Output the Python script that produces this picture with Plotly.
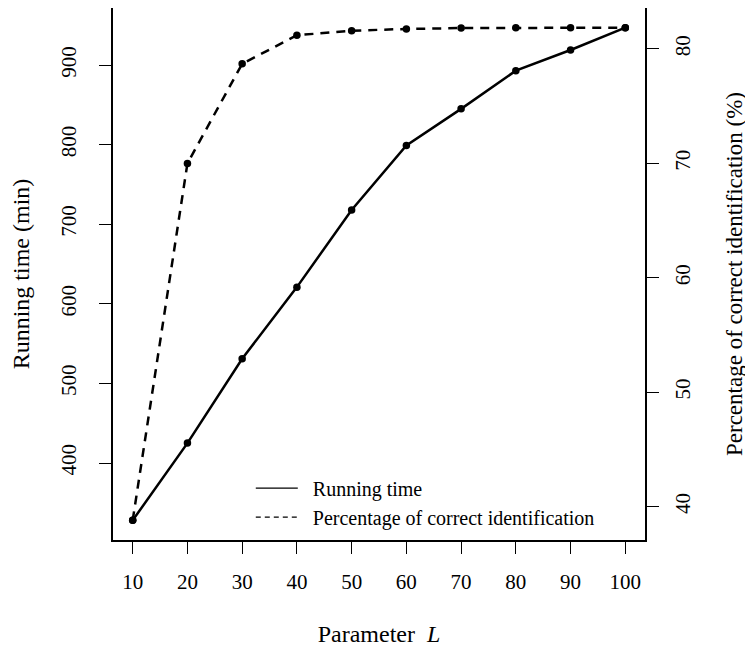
import plotly.graph_objects as go

L_values = [10, 20, 30, 40, 50, 60, 70, 80, 90, 100]
running_time = [328, 425, 531, 621, 718, 799, 845, 893, 919, 947]
pct_correct = [38.8, 70.0, 78.7, 81.2, 81.6, 81.75, 81.83, 81.86, 81.86, 81.86]

x_ticks = [10, 20, 30, 40, 50, 60, 70, 80, 90, 100]
y_ticks = [400, 500, 600, 700, 800, 900]
y2_ticks = [40, 50, 60, 70, 80]

FONT = "Liberation Serif"
FS = 21
TFS = 24


def ext(vals, f=0.04):
    lo, hi = min(vals), max(vals)
    d = (hi - lo) * f
    return [lo - d, hi + d]


fig = go.Figure()
fig.add_trace(go.Scatter(x=L_values, y=running_time, mode="lines+markers",
                         line=dict(color="black", width=2.5),
                         marker=dict(color="black", size=7.5),
                         showlegend=False, yaxis="y"))
fig.add_trace(go.Scatter(x=L_values, y=pct_correct, mode="lines+markers",
                         line=dict(color="black", width=2.5, dash="9px,7px"),
                         marker=dict(color="black", size=7.5),
                         showlegend=False, yaxis="y2"))
# legend entries (thin lines, no markers)
fig.add_trace(go.Scatter(x=[None], y=[None], mode="lines",
                         name="\u00a0\u00a0Running time",
                         line=dict(color="black", width=1.2)))
fig.add_trace(go.Scatter(x=[None], y=[None], mode="lines",
                         name="\u00a0\u00a0Percentage of correct identification",
                         line=dict(color="black", width=1.2, dash="5px,4px")))

axis_common = dict(showgrid=False, zeroline=False, showline=True, linecolor="black",
                   linewidth=1.5, ticks="outside", ticklen=12, tickwidth=1.2,
                   tickcolor="black", automargin=False,
                   tickfont=dict(family=FONT, size=FS, color="black"))

# the page body adds an 8px offset, so the figure is sized to the remaining area
fig.update_layout(
    width=745, height=639,
    margin=dict(l=105, r=108, t=0, b=107),
    paper_bgcolor="white", plot_bgcolor="white",
    font=dict(family=FONT, size=FS, color="black"),
    xaxis=dict(**axis_common, range=ext(L_values), tickvals=x_ticks, mirror=True,
               ticklabelstandoff=10,
               title=dict(text="Parameter\u00a0\u00a0<i>L</i>", standoff=32,
                          font=dict(family=FONT, size=TFS))),
    yaxis=dict(**axis_common, range=ext(running_time), tickvals=y_ticks, tickangle=-90,
               ticklabelstandoff=15,
               title=dict(text="Running time (min)", standoff=25,
                          font=dict(family=FONT, size=TFS))),
    yaxis2=dict(**axis_common, range=ext(pct_correct), tickvals=y2_ticks, tickangle=-90,
                overlaying="y", side="right", ticklabelstandoff=6,
                title=dict(text="Percentage of correct identification (%)", standoff=32,
                           font=dict(family=FONT, size=23))),
    legend=dict(x=0.259, y=0.134, xanchor="left", yanchor="top",
                bgcolor="rgba(0,0,0,0)", font=dict(family=FONT, size=20),
                tracegroupgap=0, itemwidth=42),
)

fig.write_html("out.html")
